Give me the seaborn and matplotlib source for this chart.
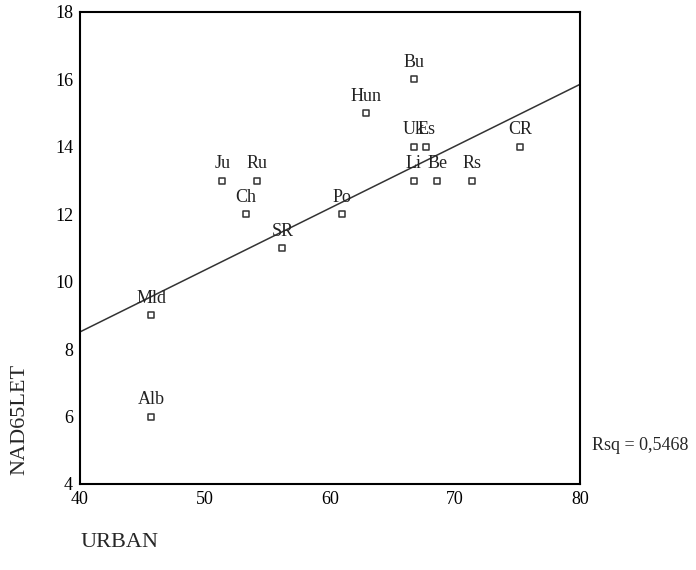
import matplotlib
matplotlib.use('Agg')
import matplotlib.pyplot as plt
import seaborn as sns
import pandas as pd

# Datos
countries = ['Bu', 'Uk', 'Es', 'Li', 'Be', 'Rs', 'CR', 'Hun', 'Po', 'SR',
             'Ch', 'Ju', 'Ru', 'Mld', 'Alb']
urban = [66.7, 66.7, 67.7, 66.7, 68.6, 71.4, 75.2, 62.9, 61.0, 56.2,
         53.3, 51.4, 54.2, 45.7, 45.7]
nad65let = [16, 14, 14, 13, 13, 13, 14, 15, 12, 11, 12, 13, 13, 9, 6]
fit_x = [40, 80]
fit_y = [8.51, 15.85]
x_ticks = [40, 50, 60, 70, 80]
y_ticks = [4, 6, 8, 10, 12, 14, 16, 18]
rsq_text = 'Rsq = 0,5468'

df = pd.DataFrame({'label': countries, 'URBAN': urban, 'NAD65LET': nad65let})

sns.set_style('white')
plt.rcParams['font.family'] = ['Liberation Serif', 'DejaVu Serif']

fig = plt.figure(figsize=(6.96, 5.70), dpi=100)
ax = fig.add_axes([0.115, 0.151, 0.718, 0.828])

# Recta de regresion
sns.lineplot(x=fit_x, y=fit_y, ax=ax, color='#333333', lw=1.1)

# Puntos
sns.scatterplot(data=df, x='URBAN', y='NAD65LET', ax=ax, marker='s', s=20,
                facecolor='white', edgecolor='#333333', linewidth=1.1, zorder=3)

for _, r in df.iterrows():
    ax.annotate(r['label'], (r['URBAN'], r['NAD65LET']), xytext=(0, 6),
                textcoords='offset points', ha='center', va='bottom',
                fontsize=13, color='#222222')

ax.set_xlim(40, 80)
ax.set_ylim(4, 18)
ax.set_xticks(x_ticks)
ax.set_yticks(y_ticks)
ax.tick_params(axis='both', labelsize=13, length=3, width=2.5,
               direction='out', pad=2, colors='black')
for s in ax.spines.values():
    s.set_color('black')
    s.set_linewidth(1.5)

ax.set_xlabel('')
ax.set_ylabel('')
fig.text(0.029, 0.265, 'NAD65LET', rotation=90, ha='center', va='center',
         fontsize=16)
fig.text(0.115, 0.049, 'URBAN', ha='left', va='center', fontsize=16)
fig.text(0.85, 0.219, rsq_text, ha='left', va='center', fontsize=13)

fig.savefig('out.png', dpi=100)
